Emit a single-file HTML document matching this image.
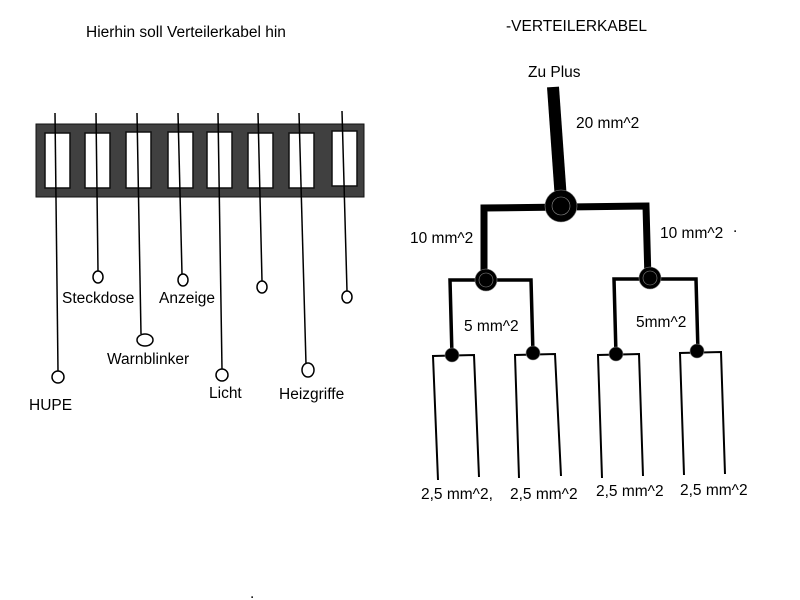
<!DOCTYPE html>
<html><head><style>body{margin:0;background:#fff}svg{display:block}text{font-family:"Liberation Sans",sans-serif;font-size:15.5px;fill:#000}</style></head>
<body>
<svg width="800" height="600" viewBox="0 0 800 600">
<text x="86" y="37">Hierhin soll Verteilerkabel hin</text>
<text x="506" y="31">-VERTEILERKABEL</text>
<text x="528" y="77">Zu Plus</text>
<rect x="36" y="124" width="328" height="73" fill="#404040" stroke="#111" stroke-width="1"/>
<g fill="#fff" stroke="#111" stroke-width="1.5">
<rect x="45" y="133" width="25" height="55"/><rect x="85" y="133" width="25" height="55"/>
<rect x="126" y="132" width="25" height="56"/><rect x="168" y="132" width="25" height="56"/>
<rect x="207" y="132" width="25" height="56"/><rect x="248" y="133" width="25" height="55"/>
<rect x="289" y="133" width="25" height="55"/><rect x="332" y="131" width="25" height="55"/>
</g>
<g stroke="#000" stroke-width="1.5" fill="#fff">
<line x1="55" y1="113" x2="58" y2="371"/><ellipse cx="58" cy="377" rx="6" ry="6"/>
<line x1="96" y1="113" x2="98" y2="271"/><ellipse cx="98" cy="277" rx="5" ry="6"/>
<line x1="137" y1="113" x2="141" y2="334"/><ellipse cx="145" cy="340" rx="8" ry="6"/>
<line x1="178" y1="113" x2="182" y2="274"/><ellipse cx="183" cy="280" rx="5" ry="6"/>
<line x1="218" y1="113" x2="222" y2="369"/><ellipse cx="222" cy="375" rx="6" ry="6"/>
<line x1="258" y1="113" x2="262" y2="281"/><ellipse cx="262" cy="287" rx="5" ry="6"/>
<line x1="299" y1="113" x2="306" y2="364"/><ellipse cx="308" cy="370" rx="6" ry="7"/>
<line x1="342" y1="111" x2="347" y2="291"/><ellipse cx="347" cy="297" rx="5" ry="6"/>
</g>
<text x="29" y="410">HUPE</text><text x="62" y="303">Steckdose</text><text x="107" y="364">Warnblinker</text>
<text x="159" y="303">Anzeige</text><text x="209" y="398">Licht</text><text x="279" y="399">Heizgriffe</text>
<g stroke="#000" fill="none" stroke-linejoin="miter">
<line x1="553" y1="87" x2="561" y2="200" stroke-width="12"/>
<polyline points="484,282 484,208 646,206 648,280" stroke-width="7"/>
<polyline points="452,356 450,280 531,280 533,354" stroke-width="3.5"/>
<polyline points="616,355 614,279 696,279 698,352" stroke-width="3.5"/>
<g stroke-width="2">
<polyline points="438,480 433,356 474,355 479,477"/>
<polyline points="519,478 515,355 555,354 561,476"/>
<polyline points="602,478 598,355 639,354 643,476"/>
<polyline points="684,475 680,353 721,352 725,474"/>
</g>
</g>
<g fill="#000" stroke="#888" stroke-width="0.6">
<circle cx="561" cy="206" r="16"/><circle cx="561" cy="206" r="9" fill="none"/>
<circle cx="486" cy="280" r="11"/><circle cx="486" cy="280" r="7" fill="none"/>
<circle cx="650" cy="278" r="11"/><circle cx="650" cy="278" r="7" fill="none"/>
<circle cx="452" cy="355" r="7"/><circle cx="533" cy="353" r="7"/>
<circle cx="616" cy="354" r="7"/><circle cx="697" cy="351" r="7"/>
</g>
<text x="576" y="128">20 mm^2</text>
<text x="410" y="243">10 mm^2</text><text x="660" y="238">10 mm^2</text>
<text x="733" y="232">.</text>
<text x="464" y="331">5 mm^2</text><text x="636" y="327">5mm^2</text>
<text x="421" y="499">2,5 mm^2,</text><text x="510" y="499">2,5 mm^2</text>
<text x="596" y="496">2,5 mm^2</text><text x="680" y="495">2,5 mm^2</text>
<text x="250" y="598">.</text>
</svg>
</body></html>
